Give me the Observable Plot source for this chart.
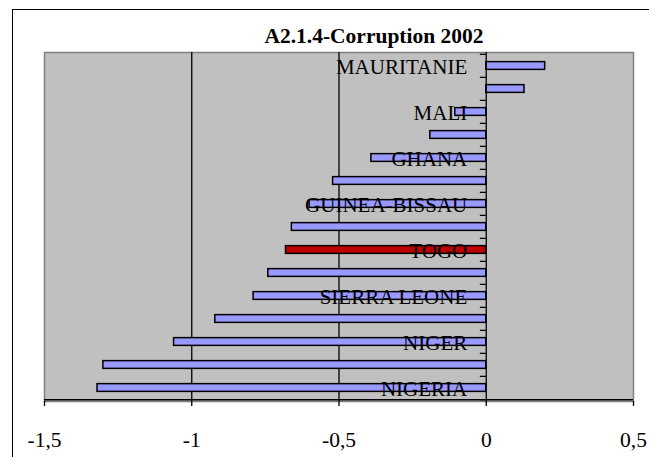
<!DOCTYPE html>
<html>
<head>
<meta charset="utf-8">
<script src="https://cdn.jsdelivr.net/npm/d3@7"></script>
<script src="https://cdn.jsdelivr.net/npm/@observablehq/plot@0.6"></script>
<style>
  html, body { margin: 0; padding: 0; background: #fff; overflow: hidden; }
  #wrap { position: relative; width: 649px; height: 457px; overflow: hidden; }
  #outer { position: absolute; left: 12px; top: 9px; width: 800px; height: 600px;
           border-left: 1.5px solid #000; border-top: 1.5px solid #000; pointer-events: none; }
  #chart { position: absolute; left: 0; top: 0; }
  #chart svg, #chart svg text, #chart svg g { font-family: 'Liberation Serif', 'Times New Roman', serif !important; }
</style>
</head>
<body>
<div id="wrap"><div id="chart"></div><div id="outer"></div></div>
<script>
const title = "A2.1.4-Corruption 2002";
const countries = ["MAURITANIE","BURKINA FASO","MALI","SENEGAL","GHANA","BENIN","GUINEA-BISSAU","GAMBIE","TOGO","GUINEE","SIERRA LEONE","COTE D'IVOIRE","NIGER","LIBERIA","NIGERIA"];
const values = [0.20, 0.13, -0.105, -0.19, -0.39, -0.52, -0.60, -0.66, -0.68, -0.74, -0.79, -0.92, -1.06, -1.30, -1.32];
const shownLabels = ["MAURITANIE","MALI","GHANA","GUINEA-BISSAU","TOGO","SIERRA LEONE","NIGER","NIGERIA"];
const highlight = "TOGO";
const xTicks = [-1.5, -1, -0.5, 0, 0.5];
const gridValues = [-1, -0.5];

const data = countries.map((c, i) => ({country: c, value: values[i]}));
const W = 649, H = 457;
const mTop = 52, mBottom = 56, mLeft = 44, mRight = 16;
const bw = (H - mTop - mBottom) / countries.length;
const barH = 8;
const inset = (bw - barH) / 2;

const chart = Plot.plot({
  width: W,
  height: H,
  marginTop: mTop,
  marginBottom: mBottom,
  marginLeft: mLeft,
  marginRight: mRight,
  style: {fontFamily: "'Liberation Serif', 'Times New Roman', serif", fontSize: "20px", background: "transparent", color: "#000"},
  x: {domain: [-1.5, 0.5], label: null},
  y: {domain: countries, padding: 0, axis: null},
  marks: [
    Plot.frame({fill: "#c0c0c0", stroke: "#808080", strokeWidth: 1.5}),
    Plot.ruleX(gridValues, {stroke: "#000", strokeWidth: 1.3}),
    Plot.barX(data, {
      x: "value", y: "country",
      fill: d => d.country === highlight ? "#c00000" : "#9999ff",
      stroke: "#000", strokeWidth: 1.5,
      insetTop: inset, insetBottom: inset
    }),
    Plot.ruleX([0], {stroke: "#000", strokeWidth: 1.3}),
    Plot.ruleY(countries, {y: d => d, x1: -0.02, x2: 0, dy: -bw / 2, stroke: "#000", strokeWidth: 1.3}),
    Plot.ruleY([countries[countries.length - 1]], {y: d => d, x1: -0.02, x2: 0, dy: bw / 2, stroke: "#000", strokeWidth: 1.3}),
    Plot.ruleY([countries[countries.length - 1]], {y: d => d, dy: bw / 2, stroke: "#000", strokeWidth: 1.5}),
    Plot.text(data.filter(d => shownLabels.includes(d.country)), {
      x: 0, y: "country", text: "country",
      textAnchor: "end", dx: -19, dy: 1.5, fontSize: 21, fill: "#000"
    }),
    Plot.axisX({
      ticks: xTicks,
      label: null,
      tickFormat: d => String(d).replace(".", ","),
      tickSize: 5, tickPadding: 25, fontSize: 21.5, stroke: "#000", strokeWidth: 1.3
    }),
    Plot.text([title], {
      frameAnchor: "top", dx: 35, dy: -10, lineAnchor: "bottom",
      fontWeight: "bold", fontSize: 21.5, fill: "#000"
    })
  ]
});
document.getElementById("chart").appendChild(chart);
</script>
</body>
</html>
